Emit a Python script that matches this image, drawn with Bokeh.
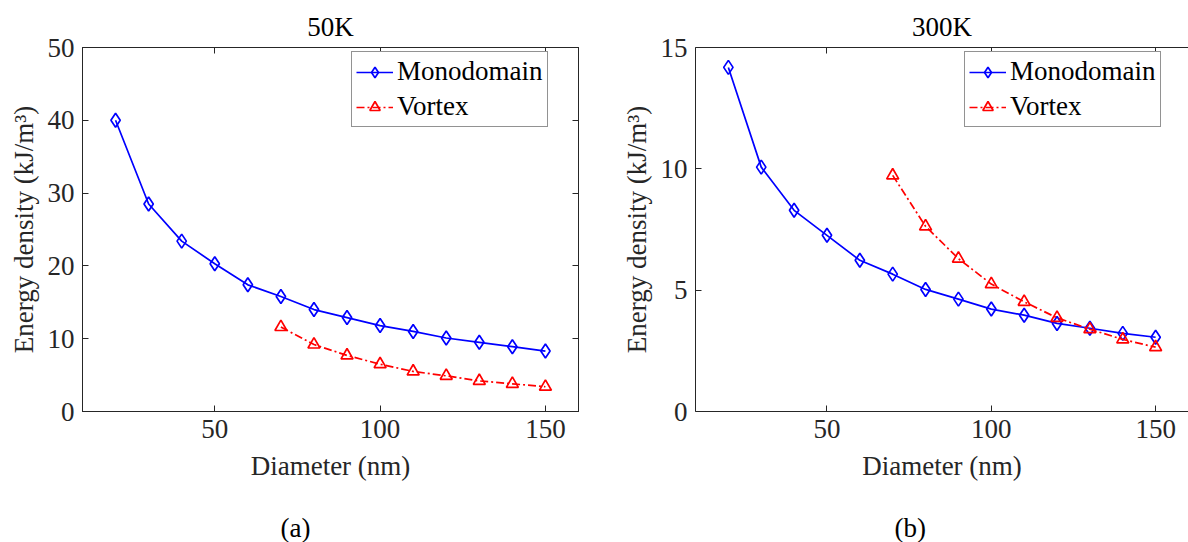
from bokeh.plotting import figure
from bokeh.models import LinearAxis, Range1d, FixedTicker, CustomJSTickFormatter, Title
from bokeh.layouts import row
from bokeh.embed import file_html
from bokeh.resources import INLINE

# ---- data ----
diam_mono = [20, 30, 40, 50, 60, 70, 80, 90, 100, 110, 120, 130, 140, 150]
diam_vortex = [70, 80, 90, 100, 110, 120, 130, 140, 150]

mono_50K = [40.0, 28.5, 23.4, 20.3, 17.4, 15.8, 14.0, 12.9, 11.8, 11.0, 10.1, 9.5, 8.9, 8.3]
vortex_50K = [11.6, 9.2, 7.7, 6.5, 5.5, 4.9, 4.2, 3.8, 3.4]

mono_300K = [14.18, 10.07, 8.29, 7.26, 6.23, 5.66, 5.03, 4.63, 4.22, 3.97, 3.63, 3.43, 3.22, 3.06]
vortex_300K = [9.73, 7.63, 6.30, 5.25, 4.52, 3.86, 3.39, 2.97, 2.65]

x_ticks = [50, 100, 150]
y_ticks_50K = [0, 10, 20, 30, 40, 50]
y_ticks_300K = [0, 5, 10, 15]

titles = ["50K", "300K"]
sub_labels = ["(a)", "(b)"]
series_names = ["Monodomain", "Vortex"]
x_label = "Diameter (nm)"
y_label = "Energy density (kJ/m\u00b3)"

FONT = "Liberation Serif"
FS = "27px"
AX = "#262626"


def make_panel(title, sub, mono, vortex, ymax, yticks, width, mb_left, mb_right, right_spine, sub_offset):
    p = figure(width=width, height=542, x_range=Range1d(10, 160), y_range=Range1d(0, ymax),
               output_backend="svg", toolbar_location=None,
               min_border_left=mb_left, min_border_right=mb_right,
               min_border_top=47, min_border_bottom=130,
               background_fill_color="white", border_fill_color="white")
    p.grid.visible = False
    p.outline_line_color = AX if right_spine else None
    p.outline_line_width = 1

    p.title.text = title
    p.title.align = "center"
    p.title.text_font = FONT
    p.title.text_font_size = FS
    p.title.text_font_style = "normal"
    p.title.text_color = "black"
    p.title.standoff = 12

    axes = list(p.xaxis) + list(p.yaxis)
    for ax in axes:
        ax.major_tick_in = 6
        ax.major_tick_out = 0
        ax.minor_tick_in = 0
        ax.minor_tick_out = 0
        ax.axis_line_color = AX
        ax.major_tick_line_color = AX
        ax.major_label_text_font = FONT
        ax.major_label_text_font_size = FS
        ax.major_label_text_color = AX
        ax.axis_label_text_font = FONT
        ax.axis_label_text_font_size = FS
        ax.axis_label_text_font_style = "normal"
        ax.axis_label_text_color = AX
    xa = p.xaxis[0]
    ya = p.yaxis[0]
    xa.ticker = FixedTicker(ticks=x_ticks)
    ya.ticker = FixedTicker(ticks=yticks)
    xa.axis_label = x_label
    ya.axis_label = y_label
    xa.major_label_standoff = 8
    xa.axis_label_standoff = 10
    ya.major_label_standoff = 8
    ya.axis_label_standoff = 6

    blank = CustomJSTickFormatter(code="return '';")

    def mirror(ticks, side):
        a = LinearAxis(ticker=FixedTicker(ticks=ticks), major_tick_in=6, major_tick_out=0,
                       minor_tick_in=0, minor_tick_out=0, formatter=blank,
                       major_label_text_font_size="1px",
                       major_label_standoff=0, axis_line_color=AX, major_tick_line_color=AX)
        p.add_layout(a, side)

    mirror(x_ticks, "above")
    if right_spine:
        mirror(yticks, "right")

    p.line(diam_mono, mono, line_color="blue", line_width=1.7, legend_label=series_names[0])
    p.scatter(diam_mono, mono, marker="diamond", size=14, line_color="blue", line_width=1.7,
              fill_color=None, legend_label=series_names[0])
    p.line(diam_vortex, vortex, line_color="red", line_width=1.7, line_dash="8 3 2 3",
           legend_label=series_names[1])
    p.scatter(diam_vortex, vortex, marker="triangle", size=12, line_color="red", line_width=1.7,
              fill_color=None, legend_label=series_names[1])

    p.legend.location = (269, 284)
    p.legend.label_text_font = FONT
    p.legend.label_text_font_size = FS
    p.legend.label_text_font_style = "normal"
    p.legend.label_text_color = "black"
    p.legend.glyph_width = 37
    p.legend.glyph_height = 26
    p.legend.label_standoff = 4
    p.legend.spacing = 4
    p.legend.padding = 4
    p.legend.margin = 0
    p.legend.border_line_color = AX
    p.legend.border_line_width = 1
    p.legend.background_fill_alpha = 1

    sub_t = Title(text="\n" + sub, align="left", offset=sub_offset, standoff=0,
                  text_font=FONT, text_font_size=FS, text_font_style="normal",
                  text_color="black", text_line_height=0.9)
    p.add_layout(sub_t, "below")
    return p


p1 = make_panel(titles[0], sub_labels[0], mono_50K, vortex_50K, 50, y_ticks_50K,
                width=594, mb_left=82, mb_right=16, right_spine=True, sub_offset=198)
p2 = make_panel(titles[1], sub_labels[1], mono_300K, vortex_300K, 15, y_ticks_300K,
                width=594, mb_left=101, mb_right=0, right_spine=False, sub_offset=199)

layout = row(p1, p2, spacing=0)
open("out.html", "w").write(file_html(layout, INLINE))
